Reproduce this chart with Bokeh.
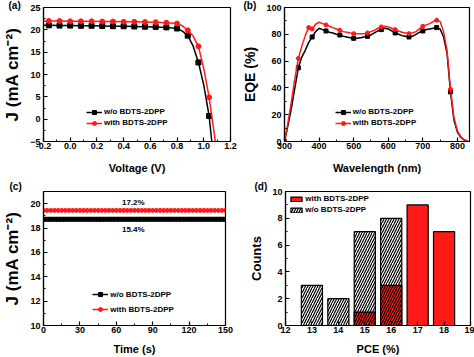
import numpy as np
from bokeh.plotting import figure
from bokeh.layouts import column, row
from bokeh.models import (Range1d, FixedTicker, Legend, LegendItem,
                          PrintfTickFormatter, Title)
from bokeh.embed import file_html
from bokeh.resources import INLINE
from bokeh.core.properties import value

FONT = "Liberation Sans"
RED = "#ff1a1a"

# ---------------- data ----------------
# (a) J-V
voltage = [-0.2, -0.16, -0.08, 0.0, 0.08, 0.16, 0.24, 0.32, 0.40, 0.48, 0.56,
           0.64, 0.72, 0.80, 0.84, 0.88, 0.92, 0.96, 1.00, 1.04, 1.06, 1.08, 1.10]
j_wo = [21.0, 21.0, 20.95, 20.95, 20.9, 20.9, 20.85, 20.8, 20.8, 20.75, 20.7,
        20.65, 20.55, 20.3, 19.7, 18.7, 16.4, 12.7, 7.6, 0.7, -5.0, -11.0, -17.0]
j_with = [22.0, 22.0, 21.95, 21.9, 21.9, 21.9, 21.85, 21.85, 21.8, 21.8, 21.75,
          21.7, 21.6, 21.4, 20.9, 19.9, 18.6, 16.3, 11.3, 4.9, 0.6, -3.6, -8.0]
a_marker_v = [-0.16, -0.08, 0.0, 0.08, 0.16, 0.24, 0.32, 0.40, 0.48, 0.56,
              0.64, 0.72, 0.80, 0.88, 0.96, 1.04]
a_xticks = [-0.2, 0.0, 0.2, 0.4, 0.6, 0.8, 1.0, 1.2]
a_yticks = [-5, 0, 5, 10, 15, 20, 25]

# (b) EQE
wavelength = [300, 310, 320, 330, 340, 350, 360, 370, 380, 390, 400, 410, 420,
              430, 440, 450, 460, 470, 480, 490, 500, 510, 520, 530, 540, 550,
              560, 570, 580, 590, 600, 610, 620, 630, 640, 650, 660, 670, 680,
              690, 700, 710, 720, 730, 740, 750, 760, 770, 780, 790, 800, 810,
              820, 830]
eqe_wo = [0, 12, 25, 40, 55, 63, 68, 74, 78, 82, 84.5, 83.5, 82.5, 81.5, 81,
          80, 79.5, 78.5, 78, 77.5, 77, 77, 77.5, 78, 78.5, 79.5, 81, 82.5,
          83.5, 84.5, 84, 82.5, 81, 80, 79, 78.5, 78, 78.5, 80, 81.5, 82.5,
          83.5, 84, 84.5, 85, 84, 78, 66, 37, 16, 7, 3, 1, 0.3]
eqe_with = [0, 14, 30, 47, 62, 71, 79, 85, 84, 87.5, 89, 88, 87, 86, 85, 84,
            83, 82, 81.5, 81, 80.5, 80.5, 80.5, 80.5, 81, 82, 83, 84.5, 85.5,
            86, 85.5, 84.5, 83.5, 82.5, 81.5, 81, 80.5, 81, 82, 84, 86, 87, 88,
            89.5, 90.5, 89.5, 82, 68, 39, 18, 8, 3.5, 1.2, 0.5]
b_marks_wo = [300, 340, 380, 420, 460, 500, 540, 580, 620, 660, 700, 740, 780]
b_marks_with = [300, 340, 370, 380, 420, 460, 500, 540, 580, 620, 660, 700,
                740, 780]
b_xticks = [300, 400, 500, 600, 700, 800]
b_yticks = [0, 20, 40, 60, 80, 100]

# (c) steady-state J
time_s = [0, 3, 6, 9, 12, 15, 18, 21, 24, 27, 30, 33, 36, 39, 42, 45, 48, 51,
          54, 57, 60, 63, 66, 69, 72, 75, 78, 81, 84, 87, 90, 93, 96, 99, 102,
          105, 108, 111, 114, 117, 120, 123, 126, 129, 132, 135, 138, 141, 144,
          147, 150]
jss_wo_level = 18.72
jss_with_level = 19.45
c_label_with = "17.2%"
c_label_wo = "15.4%"
c_label_pos = [(74, 20.1), (74, 17.85)]
c_xticks = [0, 30, 60, 90, 120, 150]
c_yticks = [10, 12, 14, 16, 18, 20]

# (d) PCE histogram
pce_wo = [13, 14, 15, 16]
counts_wo = [3, 2, 7, 8]
pce_with = [15, 16, 17, 18]
counts_with = [1, 3, 9, 7]
d_xticks = [12, 13, 14, 15, 16, 17, 18, 19]
d_yticks = [0, 2, 4, 6, 8, 10]

LBL_WO = "w/o BDTS-2DPP"
LBL_WITH = "with BDTS-2DPP"


def minor(ticks):
    return [(a + b) / 2 for a, b in zip(ticks[:-1], ticks[1:])]


def make_fig(w, h, xr, yr, borders):
    l, r, t, b = borders
    p = figure(width=w, height=h, x_range=Range1d(*xr), y_range=Range1d(*yr),
               output_backend="svg", toolbar_location=None,
               min_border_left=l, min_border_right=r, min_border_top=t,
               min_border_bottom=b)
    p.xgrid.visible = False
    p.ygrid.visible = False
    p.outline_line_color = "black"
    p.outline_line_width = 1.2
    p.background_fill_color = "white"
    return p


def style(p, xticks, yticks, xlabel, ylabel, ysize, xminor=True, yminor=True,
          xlabel_standoff=7):
    p.xaxis.ticker = FixedTicker(ticks=xticks, minor_ticks=minor(xticks) if xminor else [])
    p.yaxis.ticker = FixedTicker(ticks=yticks, minor_ticks=minor(yticks) if yminor else [])
    for ax in (p.xaxis[0], p.yaxis[0]):
        ax.axis_line_width = 1.2
        ax.axis_line_color = "black"
        ax.major_tick_in = 4
        ax.major_tick_out = 0
        ax.minor_tick_in = 2
        ax.minor_tick_out = 0
        ax.major_tick_line_width = 1.2
        ax.minor_tick_line_width = 1.0
        ax.major_label_text_font = FONT
        ax.major_label_text_font_style = "bold"
        ax.major_label_text_font_size = "9px"
        ax.major_label_text_color = "black"
        ax.axis_label_text_font = FONT
        ax.axis_label_text_font_style = "bold"
        ax.axis_label_text_color = "black"
    p.xaxis.axis_label = xlabel
    p.yaxis.axis_label = ylabel
    p.xaxis.axis_label_text_font_size = "11px"
    p.yaxis.axis_label_text_font_size = ysize
    p.xaxis.major_label_standoff = 1
    p.xaxis.axis_label_standoff = xlabel_standoff
    p.yaxis.major_label_standoff = 3
    p.yaxis.axis_label_standoff = 5


def legend(p, items, loc, spacing=1, gw=16, gh=10):
    lg = Legend(items=items, location=loc, background_fill_alpha=0,
                border_line_alpha=0, glyph_width=gw, glyph_height=gh,
                label_height=10, spacing=spacing, padding=2, label_standoff=2,
                margin=0, label_text_font=FONT, label_text_font_style="bold",
                label_text_font_size="8px", label_text_color="black")
    p.add_layout(lg)


def panel_label(p, txt, offset, standoff=0):
    t = Title(text=txt, text_font=FONT, text_font_style="bold",
              text_font_size="10px", text_color="black", align="left",
              offset=offset, standoff=0)
    try:
        t.standoff = standoff
    except Exception:
        t.standoff = 0
    p.title = t


# ---------------- (a) ----------------
pa = make_fig(237, 178, (-0.2, 1.2), (-5, 25), (38, 7, 5, 36))
panel_label(pa, "(a)", -35, -6)
style(pa, a_xticks, a_yticks, "Voltage (V)", "J (mA cm\u207b\u00b2)", "17px",
      xlabel_standoff=10)
pa.xaxis.formatter = PrintfTickFormatter(format="%.1f")
mask = [any(abs(v - m) < 1e-6 for m in a_marker_v) for v in voltage]
vm = [v for v, k in zip(voltage, mask) if k]
la1 = pa.line(voltage, j_wo, line_color="black", line_width=1.5)
sa1 = pa.scatter(vm, [j for j, k in zip(j_wo, mask) if k], marker="square",
                 size=5, color="black")
la2 = pa.line(voltage, j_with, line_color=RED, line_width=1.5)
sa2 = pa.scatter(vm, [j for j, k in zip(j_with, mask) if k], marker="circle",
                 size=5, color=RED)
legend(pa, [LegendItem(label=LBL_WO, renderers=[la1, sa1]),
            LegendItem(label=LBL_WITH, renderers=[la2, sa2])], (41, 11.3))

# ---------------- (b) ----------------
pb = make_fig(237, 178, (300, 835), (0, 100), (47, 5, 5, 37))
panel_label(pb, "(b)", -41, -6)
style(pb, b_xticks, b_yticks, "Wavelength (nm)", "EQE (%)", "14px",
      xlabel_standoff=10)
mw = [w in b_marks_wo for w in wavelength]
mr = [w in b_marks_with for w in wavelength]
lb1 = pb.line(wavelength, eqe_wo, line_color="black", line_width=1.5)
sb1 = pb.scatter([w for w, k in zip(wavelength, mw) if k],
                 [e for e, k in zip(eqe_wo, mw) if k], marker="square", size=4,
                 color="black")
lb2 = pb.line(wavelength, eqe_with, line_color=RED, line_width=1.5)
sb2 = pb.scatter([w for w, k in zip(wavelength, mr) if k],
                 [e for e, k in zip(eqe_with, mr) if k], marker="circle", size=4,
                 color=RED)
legend(pb, [LegendItem(label=LBL_WO, renderers=[lb1, sb1]),
            LegendItem(label=LBL_WITH, renderers=[lb2, sb2])], (48.7, 11.3))

# ---------------- (c) ----------------
pc = make_fig(237, 179, (0, 150), (10, 21), (39, 12, 12, 31))
panel_label(pc, "(c)", -34)
style(pc, c_xticks, c_yticks, "Time (s)", "J (mA cm\u207b\u00b2)", "17px")
jw = [jss_wo_level] * len(time_s)
jr = [jss_with_level] * len(time_s)
lc1 = pc.line(time_s, jw, line_color="black", line_width=1.5)
sc1 = pc.scatter(time_s, jw, marker="square", size=4, color="black")
lc2 = pc.line(time_s, jr, line_color=RED, line_width=1.5)
sc2 = pc.scatter(time_s, jr, marker="circle", size=4, color=RED)
pc.text([c_label_pos[0][0], c_label_pos[1][0]],
        [c_label_pos[0][1], c_label_pos[1][1]],
        text=[c_label_with, c_label_wo], text_font=value(FONT),
        text_font_style="bold", text_font_size="8px", text_align="center",
        text_baseline="middle", text_color="black")
legend(pc, [LegendItem(label=LBL_WO, renderers=[lc1, sc1]),
            LegendItem(label=LBL_WITH, renderers=[lc2, sc2])], (47.3, 9),
       spacing=5)

# ---------------- (d) ----------------
pd_ = make_fig(237, 179, (12, 19), (0, 10), (48, 4, 12, 30))
panel_label(pd_, "(d)", -31)
style(pd_, d_xticks, d_yticks, "PCE (%)", "Counts", "13px", xminor=False)
rd1 = pd_.vbar(x=pce_wo, top=counts_wo, width=0.8, bottom=0,
               fill_color="white", line_color="black", line_width=1.2,
               hatch_pattern="/", hatch_color="black", hatch_scale=5,
               hatch_weight=1.2)
with_hatch = ["/" if x in pce_wo else " " for x in pce_with]
rd2 = pd_.vbar(x=pce_with, top=counts_with, width=0.8, bottom=0,
               fill_color=RED, line_color="black", line_width=1.2,
               hatch_pattern=with_hatch, hatch_color="black", hatch_scale=5,
               hatch_weight=1.2)
legend(pd_, [LegendItem(label=LBL_WITH, renderers=[rd2], index=2),
             LegendItem(label=LBL_WO, renderers=[rd1])], (2.3, 108.2),
       gw=14, gh=6)

layout = column(row(pa, pb), row(pc, pd_))
open("out.html", "w").write(file_html(layout, INLINE))
